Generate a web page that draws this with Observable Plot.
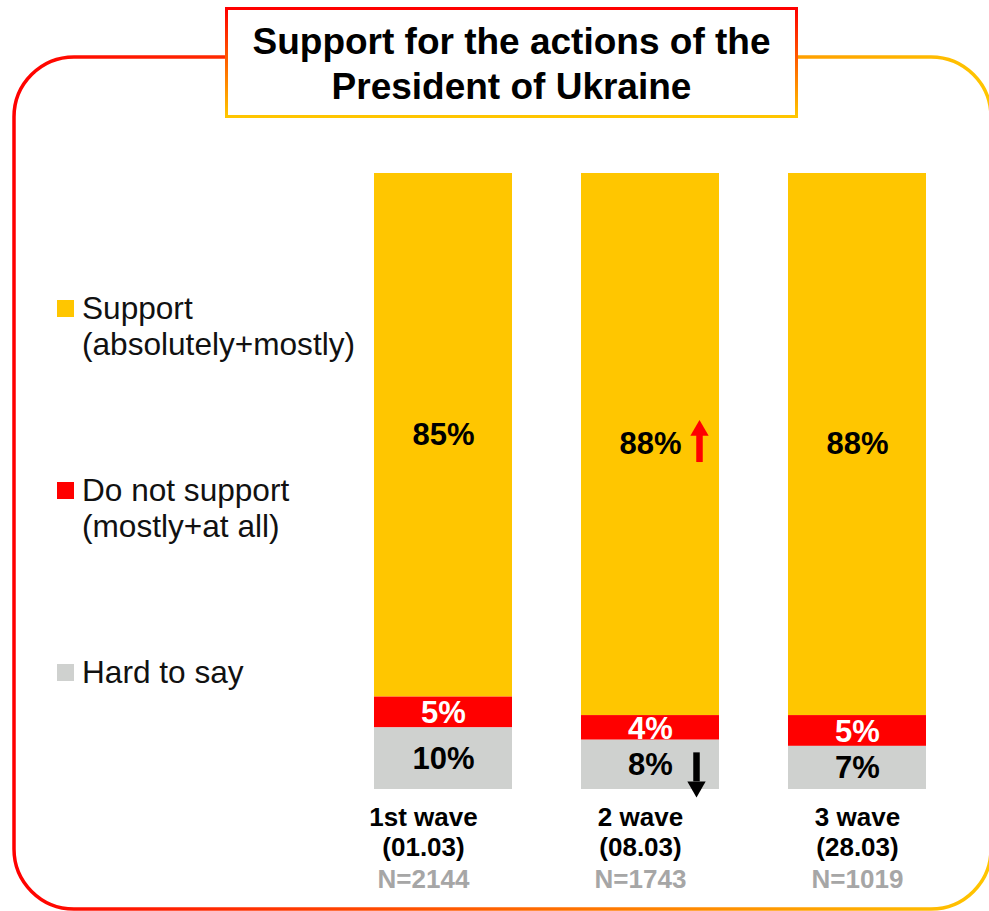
<!DOCTYPE html>
<html>
<head>
<meta charset="utf-8">
<script src="https://cdn.jsdelivr.net/npm/d3@7"></script>
<script src="https://cdn.jsdelivr.net/npm/@observablehq/plot@0.6"></script>
<style>
  html, body { margin: 0; padding: 0; background: #fff; }
  #wrap { position: relative; width: 989px; height: 911px; overflow: hidden; font-family: "Liberation Sans", Arial, sans-serif; }
  #wrap > svg { position: absolute; left: 0; top: 0; }
  #title { position: absolute; left: 225px; top: 7px; width: 573px; height: 111px; box-sizing: border-box;
    border: 3.5px solid; border-image: linear-gradient(#ff0000, #ffc600) 1; background: #fff;
    text-align: center; font-weight: bold; font-size: 37px; line-height: 45px; padding-top: 9px; color: #000; }
  .leg { position: absolute; left: 82px; font-size: 31.6px; line-height: 36px; color: #111; white-space: nowrap; }
  .sw { position: absolute; left: 57px; width: 17px; height: 17px; }
</style>
</head>
<body>
<div id="wrap"></div>
<script>
// ---- data ----
const waves = ["1st wave", "2 wave", "3 wave"];
const dates = ["(01.03)", "(08.03)", "(28.03)"];
const sampleSizes = [2144, 1743, 1019];
const categories = ["Support", "Do not support", "Hard to say"];
const categoryDetails = ["(absolutely+mostly)", "(mostly+at all)", ""];
const support = [85, 88, 88];
const doNotSupport = [5, 4, 5];
const hardToSay = [10, 8, 7];
const colors = ["#FFC600", "#FF0000", "#CFD1CF"];
const stackOrder = ["Hard to say", "Do not support", "Support"];
const titleLines = ["Support for the actions of the", "President of Ukraine"];
const changes = [
  {wave: "2 wave", category: "Support", direction: "up"},
  {wave: "2 wave", category: "Hard to say", direction: "down"}
];

const seriesValues = {"Support": support, "Do not support": doNotSupport, "Hard to say": hardToSay};
const rows = [];
waves.forEach((w, i) => categories.forEach(c => rows.push({wave: w, category: c, value: seriesValues[c][i]})));

function segMid(wave, category) {
  const i = waves.indexOf(wave);
  let base = 0;
  for (const c of stackOrder) {
    if (c === category) return base + seriesValues[c][i] / 2;
    base += seriesValues[c][i];
  }
}
const pxPerUnit = (911 - 173 - 122) / 100;
const arrows = changes.map(d => {
  const m = segMid(d.wave, d.category);
  const up = d.direction === "up";
  return {
    ...d,
    y1: up ? m - 18 / pxPerUnit : m + 12 / pxPerUnit,
    y2: up ? m + 9 / pxPerUnit : m - 17 / pxPerUnit,
    head: up ? m + 14 / pxPerUnit : m - 22 / pxPerUnit
  };
});
const upArrows = arrows.filter(d => d.direction === "up");
const downArrows = arrows.filter(d => d.direction === "down");

const arrowMarks = (data, off, color, rot) => [
  Plot.ruleX(data, {x: "wave", y1: "y1", y2: "y2", dx: off, stroke: color, strokeWidth: 6.5}),
  Plot.dot(data, {x: "wave", y: "head", dx: off, symbol: "triangle", r: 6.8, fill: color, stroke: "none", rotate: rot})
];

// category labels sit on a slightly wider grid than the bars in the original
const labelShift = [-20, -10, 0];
const labelFont = {frameAnchor: "bottom", lineAnchor: "middle", fontSize: 26, fontWeight: "bold"};
const labelMarks = waves.flatMap((w, i) => [
  Plot.text([w], {x: d => d, text: d => d, dy: 28, dx: labelShift[i], fill: "#000", ...labelFont}),
  Plot.text([w], {x: d => d, text: () => dates[i], dy: 58, dx: labelShift[i], fill: "#000", ...labelFont}),
  Plot.text([w], {x: d => d, text: () => "N=" + sampleSizes[i], dy: 90, dx: labelShift[i], fill: "#A6A6A6", ...labelFont})
]);

const chart = Plot.plot({
  width: 989, height: 911,
  marginTop: 173, marginBottom: 122, marginLeft: 373, marginRight: 63,
  x: {domain: waves, paddingInner: 1/3, paddingOuter: 0, axis: null},
  y: {domain: [0, 100], axis: null},
  color: {domain: categories, range: colors},
  style: {fontFamily: "Liberation Sans, Arial, sans-serif", background: "transparent", overflow: "visible"},
  marks: [
    Plot.barY(rows, {x: "wave", y: "value", fill: "category", z: "category", order: stackOrder}),
    Plot.text(rows, Plot.stackY({x: "wave", y: "value", z: "category", order: stackOrder,
      text: d => d.category === "Do not support" ? "" : d.value + "%",
      fill: "#000", fontSize: 31, fontWeight: "bold"})),
    Plot.text(rows, Plot.stackY({x: "wave", y: "value", z: "category", order: stackOrder,
      text: d => d.category === "Do not support" ? d.value + "%" : "",
      fill: "#fff", fontSize: 31, fontWeight: "bold", dy: 1})),
    ...arrowMarks(upArrows, 49, "#FF0000", 0),
    ...arrowMarks(downArrows, 46, "#000000", 180),
    ...labelMarks
  ]
});

const wrap = document.getElementById("wrap");
wrap.appendChild(chart);

// decorative rounded frame with horizontal red->yellow gradient
const frame = d3.create("svg").attr("width", 989).attr("height", 911)
  .style("position", "absolute").style("left", 0).style("top", 0).style("pointer-events", "none");
const grad = frame.append("defs").append("linearGradient").attr("id", "frameGrad")
  .attr("gradientUnits", "userSpaceOnUse").attr("x1", 14).attr("x2", 991).attr("y1", 0).attr("y2", 0);
grad.append("stop").attr("offset", "0%").attr("stop-color", "#FF0000");
grad.append("stop").attr("offset", "100%").attr("stop-color", "#FFC600");
frame.append("rect").attr("x", 14).attr("y", 57).attr("width", 977).attr("height", 852)
  .attr("rx", 60).attr("ry", 60).attr("fill", "none").attr("stroke", "url(#frameGrad)").attr("stroke-width", 3.5);
wrap.appendChild(frame.node());

// title box
const title = document.createElement("div");
title.id = "title";
title.innerHTML = titleLines.join("<br>");
wrap.appendChild(title);

// legend
const legendTops = [290, 472, 654];
categories.forEach((c, i) => {
  const sw = document.createElement("div");
  sw.className = "sw";
  sw.style.top = (legendTops[i] + 10) + "px";
  sw.style.background = colors[i];
  wrap.appendChild(sw);
  const t = document.createElement("div");
  t.className = "leg";
  t.style.top = legendTops[i] + "px";
  t.innerHTML = c + (categoryDetails[i] ? "<br>" + categoryDetails[i] : "");
  wrap.appendChild(t);
});
</script>
</body>
</html>
